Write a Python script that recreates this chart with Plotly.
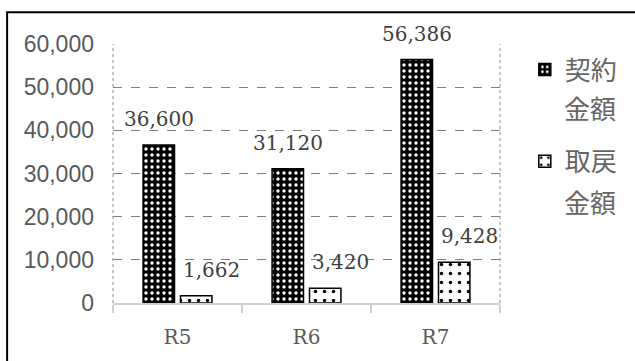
import plotly.graph_objects as go

# Contract amounts vs. recovered amounts by fiscal year
categories = ["R5", "R6", "R7"]
contract = [36600, 31120, 56386]
recovered = [1662, 3420, 9428]
series_names = ["契約", "取戻"]
name_suffix = "金額"
y_ticks = [0, 10000, 20000, 30000, 40000, 50000, 60000]

W, H = 635, 361
ML, MR, MT, MB = 113, 132, 44, 56
PW, PH = W - ML - MR, H - MT - MB

def px_to_paper_x(px):
    return (px - ML) / PW

def px_to_paper_y(py):
    return 1 - (py - MT) / PH

GRAY_TXT = "#595959"
LEGEND_TXT = "#666666"
NUM_FONT = "DejaVu Serif"
CJK_FONT = "Noto Sans CJK JP"

fig = go.Figure()
fig.add_trace(go.Bar(
    x=categories, y=contract, name=series_names[0], legendgroup="a",
    marker=dict(
        color="black",
        line=dict(color="black", width=1.5),
        pattern=dict(shape=".", bgcolor="black", fgcolor="white",
                     size=6, solidity=0.25, fillmode="replace"),
    ),
))
fig.add_trace(go.Bar(
    x=categories, y=recovered, name=series_names[1], legendgroup="b",
    marker=dict(
        color="white",
        line=dict(color="black", width=1.5),
        pattern=dict(shape=".", bgcolor="white", fgcolor="black",
                     size=9, solidity=0.12, fillmode="replace"),
    ),
))

# value labels above each bar
slot_px = 37.5
for cat, v in zip(categories, contract):
    fig.add_annotation(x=cat, y=v, text=f"{v:,}", showarrow=False,
                       xref="x", yref="y", yanchor="bottom",
                       xshift=-slot_px / 2, yshift=12,
                       font=dict(family=NUM_FONT, size=20, color="#404040"))
for cat, v in zip(categories, recovered):
    fig.add_annotation(x=cat, y=v, text=f"{v:,}", showarrow=False,
                       xref="x", yref="y", yanchor="bottom",
                       xshift=slot_px / 2 + 15, yshift=12,
                       font=dict(family=NUM_FONT, size=20, color="#404040"))

# second line of each legend entry (wrapped name)
for ypx in (107.5, 202.5):
    fig.add_annotation(x=px_to_paper_x(565), y=px_to_paper_y(ypx),
                       xref="paper", yref="paper", xanchor="left",
                       yanchor="middle", text=name_suffix, showarrow=False,
                       font=dict(family=CJK_FONT, size=26, color=LEGEND_TXT))

# dotted left/right edges of the plot area
for xe in (0, 1):
    fig.add_shape(type="line", xref="paper", yref="paper",
                  x0=xe, x1=xe, y0=0, y1=1,
                  line=dict(color="#8c8c8c", width=1, dash="dot"))

# outer frame
fig.add_shape(type="rect", xref="paper", yref="paper",
              x0=px_to_paper_x(6.3), x1=px_to_paper_x(650),
              y0=px_to_paper_y(380), y1=px_to_paper_y(12),
              line=dict(color="black", width=2))

fig.update_layout(
    width=W, height=H,
    margin=dict(l=ML, r=MR, t=MT, b=MB, pad=0),
    paper_bgcolor="white", plot_bgcolor="white",
    barmode="group", bargap=0.42, bargroupgap=0.16,
    showlegend=True,
    legend=dict(
        x=px_to_paper_x(528), y=px_to_paper_y(46),
        xanchor="left", yanchor="top", valign="middle",
        font=dict(family=CJK_FONT, size=26, color=LEGEND_TXT),
        bgcolor="rgba(0,0,0,0)", tracegroupgap=55,
        traceorder="grouped",
    ),
    xaxis=dict(
        showline=True, linecolor="#d0d0d0", linewidth=1.5,
        ticks="outside", tickson="boundaries", ticklen=8,
        tickcolor="#d0d0d0", tickwidth=1.5,
        showgrid=False,
        tickfont=dict(family=NUM_FONT, size=20, color=GRAY_TXT),
        ticklabelstandoff=15,
    ),
    yaxis=dict(
        range=[0, 60000], tickvals=y_ticks, tickformat=",",
        showgrid=True, gridcolor="#7f7f7f", gridwidth=1, griddash="dash",
        zeroline=False, showline=False,
        tickfont=dict(family="Liberation Sans", size=23, color=GRAY_TXT),
        ticklabelstandoff=18,
    ),
)

fig.write_html("out.html")
